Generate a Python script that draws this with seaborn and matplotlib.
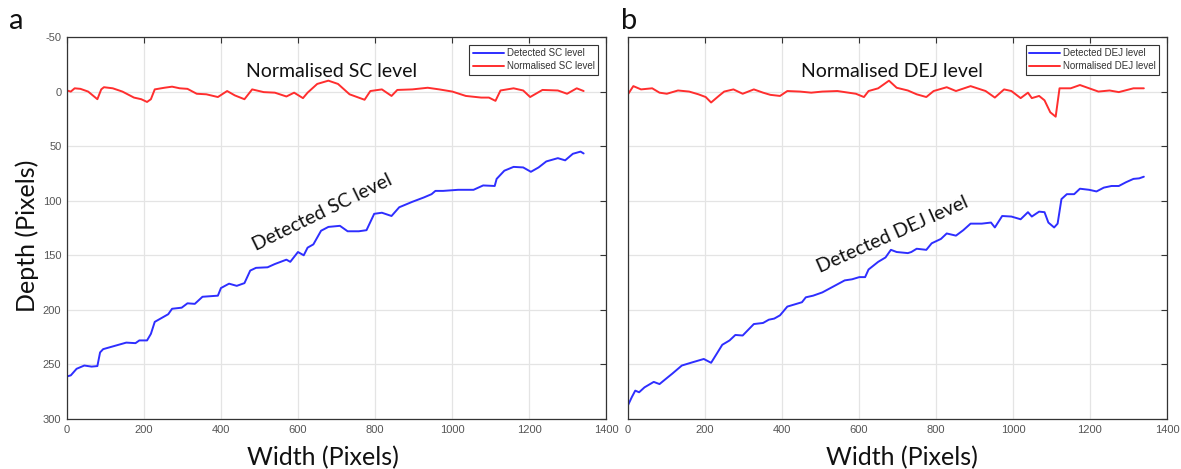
import matplotlib
import matplotlib.pyplot as plt
import seaborn as sns
import pandas as pd

# panel a: stratum corneum (SC) level
sc_x = [0, 10, 25, 45, 64, 79, 86, 94, 114, 134, 154, 178, 188, 208, 218, 228, 243, 263, 273,
        298, 313, 332, 352, 392, 400, 421, 441, 461, 476, 491, 521, 540, 570, 580, 600, 615,
        625, 640, 660, 679, 709, 729, 758, 778, 798, 818, 843, 863, 897, 927, 947, 957, 977,
        1016, 1056, 1081, 1111, 1116, 1136, 1160, 1185, 1205, 1225, 1245, 1275, 1294, 1314,
        1334, 1342]
sc_detected = [261, 260, 254, 251, 252, 251.5, 239, 236, 234, 232, 230, 230.5, 228, 228, 222,
               211, 208, 204, 199, 198, 194, 194.5, 188, 187, 180, 176, 178, 175.5, 164, 161.5,
               161, 158, 154, 156, 147, 150, 143, 140, 127.5, 124, 123, 128, 128, 127, 112, 111,
               114, 106, 101, 97, 94, 91, 91, 90, 90, 86, 86.5, 80, 72.5, 69, 69.5, 73.5, 69.5,
               64, 61, 63, 57, 55, 56.7]

scn_x = [0, 10, 20, 35, 55, 79, 89, 96, 119, 144, 174, 193, 208, 218, 228, 253, 273, 293, 313,
         337, 362, 392, 416, 436, 461, 481, 511, 540, 570, 590, 613, 625, 650, 679, 704, 734,
         773, 788, 818, 843, 858, 897, 937, 967, 1001, 1036, 1076, 1096, 1113, 1126, 1160,
         1185, 1203, 1235, 1275, 1299, 1324, 1342]
sc_normalised = [-1, 0, -3, -2.5, 0, 7, -2, -4, -3, 0, 5.5, 7, 9.5, 7, -2, -3.5, -4.5, -3, -2.5,
                 2, 2.5, 5, -0.5, 3.5, 7, -2, 0.5, 1, 4.5, 1, 6, 1, -7, -10, -7, 2.5, 7.5, -0.5,
                 -2, 4, -1.5, -2, -3.5, -2, 0, 4, 5.5, 5.5, 8.5, -1, -3, -1, 5, -1.5, -1, 2, -3,
                 -0.5]

# panel b: dermo-epidermal junction (DEJ) level
dej_x = [0, 10, 19, 29, 43, 67, 82, 101, 115, 140, 168, 197, 216, 231, 245, 264, 279, 298, 327,
         351, 366, 380, 395, 414, 433, 452, 462, 481, 505, 534, 563, 582, 601, 616, 625, 650,
         669, 683, 698, 727, 736, 750, 775, 789, 813, 828, 852, 871, 890, 919, 943, 953, 972,
         996, 1020, 1039, 1049, 1068, 1082, 1092, 1107, 1116, 1126, 1140, 1159, 1174, 1198,
         1217, 1236, 1256, 1275, 1294, 1313, 1328, 1340]
dej_detected = [287.5, 280, 274, 275.5, 271, 266, 268, 262.5, 258.5, 251, 248, 245, 248.5, 240,
                232, 228, 223, 223.5, 213, 212, 209, 208, 205, 197, 195, 193, 188.5, 187, 184,
                178.5, 173, 172, 170, 170, 163, 156, 152, 145, 147, 148, 147, 144, 145, 139, 135,
                130, 132, 127, 121, 121, 120, 124.5, 114, 114.5, 117, 110.5, 114.5, 110, 110.5,
                120, 124.5, 121, 98.5, 94, 94, 89, 90, 91.5, 88, 86.5, 86.5, 83, 80, 79.5, 78]

dejn_x = [0, 14, 34, 63, 82, 101, 130, 159, 183, 202, 216, 236, 250, 274, 298, 327, 351, 370,
          395, 414, 447, 476, 505, 544, 592, 613, 625, 650, 678, 698, 727, 750, 775, 794, 828,
          852, 890, 929, 953, 977, 996, 1020, 1039, 1049, 1068, 1082, 1097, 1111, 1121, 1131,
          1150, 1174, 1198, 1222, 1251, 1275, 1313, 1340]
dej_normalised = [2.5, -5, -2, -3, 1, 2, -1, 0, 2.5, 5, 10, 4, 0, -2, 2, -2, 1, 3, 4, -0.5, 0,
                  1, 0, -0.5, 2, 5, -0.5, -3, -10, -3.5, -1, 2.5, 5, -0.5, -4, -0.5, -5, -0.5,
                  5.5, -2, -0.5, 6, 1, 6, 4, 8, 19, 23, -3, -3, -3, -6, -3, 0, -1, 0.5, -3, -3]

sns.set_theme(style='whitegrid')
matplotlib.rcParams['font.family'] = ['Liberation Sans', 'DejaVu Sans']
matplotlib.rcParams['axes.unicode_minus'] = False

BLUE = '#2e2eff'
RED = '#ff2e2e'
ann_font = 'Lato'

fig = plt.figure(figsize=(11.81, 4.69), dpi=100)
ax_a = fig.add_axes([0.0567, 0.1066, 0.4564, 0.8145])
ax_b = fig.add_axes([0.5317, 0.1066, 0.4564, 0.8145])

panels = [
    (ax_a, sc_x, sc_detected, scn_x, sc_normalised, 'SC', 26, (664, 111), 0.475),
    (ax_b, dej_x, dej_detected, dejn_x, dej_normalised, 'DEJ', 24, (687, 131), 0.508),
]

for ax, dx, dy, nx, ny, name, ang, det_pos, xl in panels:
    df_det = pd.DataFrame({'x': dx, 'y': dy})
    df_norm = pd.DataFrame({'x': nx, 'y': ny})
    sns.lineplot(data=df_det, x='x', y='y', ax=ax, color=BLUE, linewidth=1.4,
                 label=f'Detected {name} level')
    sns.lineplot(data=df_norm, x='x', y='y', ax=ax, color=RED, linewidth=1.4,
                 label=f'Normalised {name} level')
    ax.set_xlim(0, 1400)
    ax.set_ylim(300, -50)
    ax.set_xticks(range(0, 1401, 200))
    ax.set_yticks(range(-50, 301, 50))
    ax.grid(True, color='#e4e4e4', linewidth=0.9)
    ax.tick_params(direction='in', top=True, right=True, length=4, width=0.8,
                   color='#333333', labelsize=8, labelcolor='#555555', pad=4)
    for s in ax.spines.values():
        s.set_color('#333333')
        s.set_linewidth(0.9)
    leg = ax.legend(loc='upper right', fontsize=7, frameon=True, fancybox=False,
                    framealpha=1, edgecolor='#333333', borderaxespad=0.8,
                    handlelength=3.2, handletextpad=0.3, borderpad=0.35, labelspacing=0.3)
    leg.get_frame().set_linewidth(0.8)
    for t in leg.get_texts():
        t.set_color('#333333')
    ax.text(687, -18, f'Normalised {name} level', family=ann_font, fontsize=14,
            ha='center', va='center', color='#111111')
    ax.text(det_pos[0], det_pos[1], f'Detected {name} level', family=ann_font, fontsize=14,
            ha='center', va='center', rotation=ang, rotation_mode='anchor', color='#111111')
    ax.set_xlabel('Width (Pixels)', family=ann_font, fontsize=18, color='#111111')
    ax.xaxis.set_label_coords(xl, -0.07)
    ax.set_ylabel('')

ax_b.set_yticklabels([])
ax_a.set_ylabel('Depth (Pixels)', family=ann_font, fontsize=18, color='#111111')
ax_a.yaxis.set_label_coords(-0.052, 0.479)

fig.text(0.008, 0.955, 'a', family=ann_font, fontsize=21, va='center', color='#111111')
fig.text(0.526, 0.955, 'b', family=ann_font, fontsize=21, va='center', color='#111111')

plt.savefig('out.png', dpi=100)
